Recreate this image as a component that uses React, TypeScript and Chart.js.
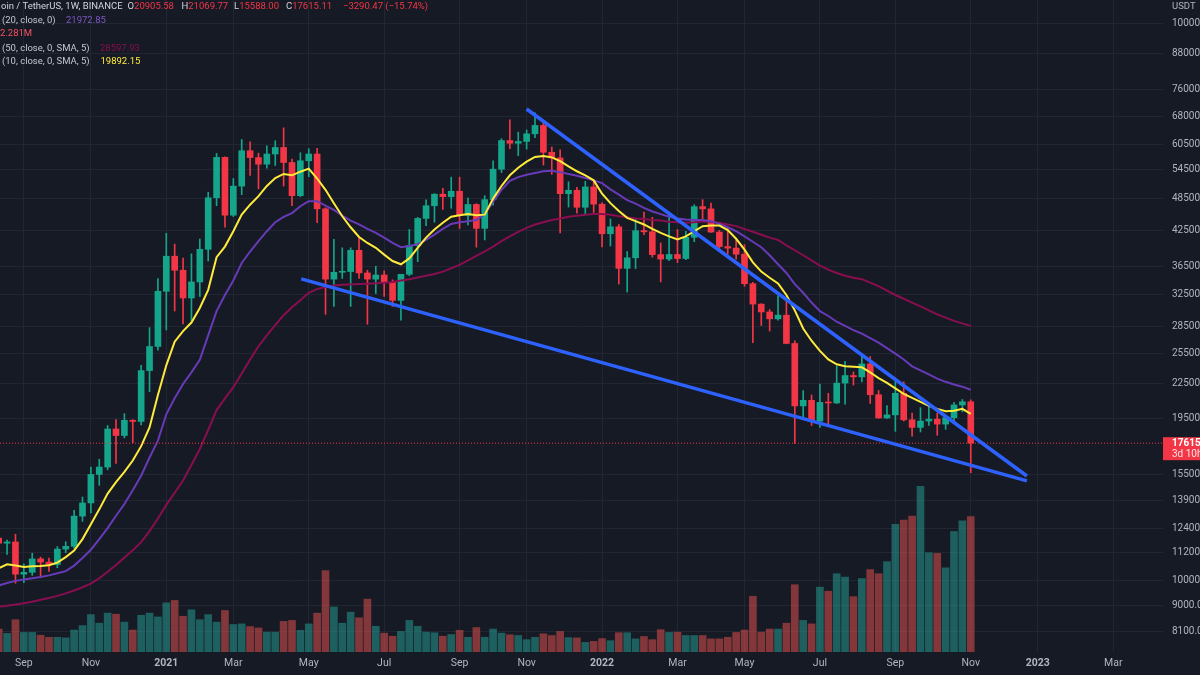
import React, { useEffect, useRef } from "react";
import { Chart, registerables } from "chart.js";

Chart.register(...registerables);

// Weekly BTC/USDT bars, index 0 = week of 17 Aug 2020, last = week of 7 Nov 2022
const OPEN = [
  11900, 11650, 11710, 10250, 10330, 10920, 10775, 10670, 11370, 11500,
  13030, 13760, 15480, 15960, 18680, 18180, 19360, 19270, 23780, 26270,
  33000, 38150, 36000, 32100, 34300, 39250, 48580, 57400, 45200, 50970,
  59000, 57350, 55800, 58200, 59800, 56200, 49000, 56600, 58200, 46400,
  34700, 35700, 35800, 39100, 35600, 34700, 35300, 34250, 31780, 35400,
  39850, 44600, 47000, 49300, 48800, 49900, 45150, 47250, 42800, 48200,
  54660, 61530, 60850, 61300, 63270, 65500, 58620, 57270, 49400, 50100,
  46700, 50800, 47300, 41860, 43080, 36280, 37900, 42400, 42200, 38400,
  37700, 38420, 37780, 41260, 46830, 46400, 42150, 39700, 39450, 38470,
  34050, 31300, 30300, 29450, 29900, 26600, 20550, 21030, 19300, 20850,
  20800, 22580, 23300, 23170, 24440, 21520, 19550, 19800, 21650, 19400,
  18800, 19300, 19450, 19060, 19570, 20630, 20905.58,
];
const HIGH = [
  12470, 11800, 12090, 10700, 11180, 11000, 10950, 11490, 11720, 13350,
  14100, 15960, 16480, 18950, 19420, 19900, 19420, 24300, 28400, 34780,
  41950, 40100, 37850, 38530, 40950, 49700, 58350, 57500, 52600, 61800,
  61200, 58400, 60200, 61500, 64850, 57000, 58500, 59500, 59600, 46600,
  40900, 39500, 39500, 41300, 36000, 36600, 35900, 34600, 35400, 42600,
  44800, 48150, 49400, 50500, 52900, 52900, 48500, 47400, 49000, 56600,
  62000, 67000, 63700, 64300, 69000, 66400, 59900, 59200, 51900, 50700,
  52000, 52100, 47600, 44500, 43500, 38900, 44500, 45800, 44800, 40300,
  45400, 42600, 42300, 47200, 48200, 47500, 42450, 42900, 40800, 40000,
  34250, 31350, 30600, 32400, 31700, 26900, 21900, 21500, 22500, 21650,
  24250, 24700, 23650, 25200, 25200, 21900, 20580, 22800, 22700, 19950,
  20400, 20500, 19950, 19700, 20850, 21100, 21069.77,
];
const LOW = [
  11370, 11120, 9875, 9900, 10200, 10135, 10370, 10530, 11200, 11400,
  12750, 13200, 14800, 15780, 16200, 18000, 17650, 19000, 21800, 25880,
  28130, 30420, 28850, 29240, 32300, 37400, 47000, 43000, 44950, 49200,
  53270, 50400, 54900, 55500, 51000, 47000, 48800, 53000, 43800, 30000,
  31000, 34800, 31000, 34800, 28800, 32700, 32300, 31000, 29300, 35200,
  37300, 43300, 43900, 46300, 46500, 42800, 43400, 39600, 40800, 47100,
  53900, 59500, 57800, 59400, 62300, 55600, 53500, 42000, 46750, 45600,
  45500, 45700, 39650, 39800, 34000, 32900, 36250, 41700, 38000, 34300,
  37450, 37150, 37600, 40500, 44200, 42100, 39200, 38500, 37700, 33700,
  26700, 28650, 28000, 29300, 26560, 17600, 19650, 18950, 18800, 18900,
  20750, 20700, 22400, 22700, 20750, 19520, 19520, 18500, 19300, 18125,
  18450, 18950, 18200, 18650, 19250, 20050, 15588,
];
const CLOSE = [
  11650, 11710, 10250, 10330, 10920, 10775, 10670, 11370, 11500, 13030,
  13760, 15480, 15960, 18680, 18180, 19360, 19270, 23780, 26270, 33000,
  38150, 36000, 32100, 34300, 39250, 48580, 57400, 45200, 50970, 59000,
  57350, 55800, 58200, 59800, 56200, 49000, 56600, 58200, 46400, 34700,
  35700, 35800, 39100, 35600, 34700, 35300, 34250, 31780, 35400, 39850,
  44600, 47000, 49300, 48800, 49900, 45150, 47250, 42800, 48200, 54660,
  61530, 60850, 61300, 63270, 65500, 58620, 57270, 49400, 50100, 46700,
  50800, 47300, 41860, 43080, 36280, 37900, 42400, 42200, 38400, 37700,
  38420, 37780, 41260, 46830, 46400, 42150, 39700, 39450, 38470, 34050,
  31300, 30300, 29450, 29900, 26600, 20550, 21030, 19300, 20850, 20800,
  22580, 23300, 23170, 24440, 21520, 19550, 19800, 21650, 19400, 18800,
  19300, 19450, 19060, 19570, 20630, 20905.58, 17615.11,
];
// volume in thousands of BTC
const VOLUME_K = [
  387, 313, 544, 330, 330, 283, 248, 248, 238, 370,
  446, 631, 486, 655, 637, 504, 370, 620, 655, 591,
  829, 869, 603, 712, 544, 631, 504, 700, 464, 474,
  429, 405, 335, 335, 516, 533, 365, 474, 655, 1372,
  759, 486, 672, 578, 891, 434, 318, 266, 347, 533,
  434, 335, 325, 266, 295, 365, 248, 412, 248, 387,
  318, 290, 278, 208, 248, 307, 278, 347, 243, 238,
  162, 179, 226, 191, 325, 325, 221, 261, 208, 377,
  330, 335, 278, 278, 278, 221, 221, 248, 330, 370,
  938, 335, 387, 387, 486, 1134, 533, 474, 1094, 1025,
  1320, 1263, 933, 1238, 1390, 1320, 1523, 2154, 2223, 2293,
  2791, 1673, 1662, 1419, 2032, 2211, 2281,
];
const MA10 = [
  10500, 10680, 10620, 10560, 10590, 10600, 10640, 10750, 11000, 11300,
  11850, 12600, 13400, 14300, 15000, 15650, 16400, 17400, 18800, 21500,
  24300, 26800, 28000, 29000, 30800, 33200, 38000, 39700, 42300, 45300,
  47200, 48900, 51000, 52700, 53600, 53300, 54100, 54800, 52600, 50200,
  47500, 45000, 43000, 41300, 40300, 39500, 38400, 37400, 36900, 37800,
  39500, 41200, 42600, 43800, 44900, 45200, 45400, 45200, 45300, 48400,
  51000, 53300, 55000, 56400, 57500, 57700, 57400, 56500, 55300, 54200,
  53300, 52200, 49400, 47500, 46000, 44700, 44100, 43500, 42700, 42000,
  41400, 40900, 41400, 42300, 43200, 43300, 43300, 42500, 41000, 39200,
  37200, 35800, 34900, 34100, 32500, 30500, 28300, 26900, 25800, 24900,
  24400, 24200, 24150, 24100, 23600, 23050, 22600, 22100, 21600, 21250,
  20900, 20550, 20300, 20100, 20150, 20300, 19892.15,
];
const EMA20 = [
  9780, 9880, 9970, 10030, 10080, 10130, 10200, 10290, 10380, 10620,
  10960, 11340, 11850, 12400, 13050, 13700, 14500, 15400, 16600, 17800,
  19850, 21200, 22500, 23600, 24850, 27500, 30400, 32500, 34500, 37100,
  38900, 40600, 42300, 43900, 44900, 45600, 46900, 47900, 47900, 47000,
  46200, 45100, 44200, 43500, 42700, 42000, 41200, 40300, 39600, 39800,
  40100, 40800, 41700, 42700, 43600, 43900, 44100, 44300, 45400, 47800,
  50200, 52100, 52900, 53400, 53800, 54200, 54300, 54000, 53600, 53200,
  52700, 52200, 51600, 50300, 49200, 48100, 47400, 46600, 45900, 45400,
  44900, 44600, 44400, 44300, 44300, 44100, 43600, 43000, 42300, 41400,
  40500, 39600, 38300, 36900, 35600, 34000, 32800, 31500, 30400, 29800,
  29100, 28600, 28100, 27700, 27200, 26700, 26100, 25500, 24900, 24200,
  23800, 23400, 23000, 22700, 22450, 22250, 21972.85,
];
const MA50 = [
  8960, 9000, 9040, 9090, 9150, 9220, 9290, 9370, 9470, 9580,
  9710, 9860, 10080, 10350, 10650, 10980, 11320, 11700, 12250, 12900,
  13650, 14350, 15100, 16100, 17200, 18600, 20200, 21200, 22200, 23500,
  24900, 26300, 27500, 28700, 29900, 30900, 31800, 32800, 33300, 33600,
  33800, 33900, 33950, 34000, 34050, 34100, 34200, 34300, 34500, 34700,
  34950, 35200, 35450, 35800, 36300, 36800, 37500, 38200, 38900, 39700,
  40600, 41400, 42200, 42900, 43500, 43900, 44300, 44600, 44900, 45100,
  45300, 45400, 45400, 45300, 45000, 44800, 44600, 44500, 44300, 44200,
  44000, 43900, 43800, 43900, 44100, 44000, 43800, 43500, 43200, 42700,
  42200, 41700, 41200, 40800, 39900, 39100, 38300, 37500, 36700, 36100,
  35600, 35200, 34900, 34700, 34200, 33700, 33100, 32500, 32000, 31500,
  31000, 30500, 30000, 29600, 29200, 28900, 28597.93,
];

const PRICE_TICKS = [
  100000, 88000, 76000, 68000, 60500, 54500, 48500, 42500, 36500, 32500,
  28500, 25500, 22500, 19500, 15500, 13900, 12400, 11200, 10000, 9000, 8100,
];
const TIME_TICK_BARS = [3, 11, 20, 28, 37, 46, 55, 63, 72, 81, 89, 98, 107, 116, 124, 133];
const TIME_TICK_LABELS = [
  "Sep", "Nov", "2021", "Mar", "May", "Jul", "Sep", "Nov",
  "2022", "Mar", "May", "Jul", "Sep", "Nov", "2023", "Mar",
];
const UPPER_TREND = [
  { x: 63.0, y: 70100 },
  { x: 122.7, y: 15380 },
];
const LOWER_TREND = [
  { x: 36.1, y: 34730 },
  { x: 122.7, y: 15070 },
];

const X_MIN = 0.155;
const X_MAX = 138.94;

const BG = "#161A25";
const GRID = "#222632";
const AXIS_TEXT = "#B2B5BE";
const UP = "#14A58A";
const DOWN = "#F23645";
const VOL_UP = "rgba(38,166,154,0.5)";
const VOL_DOWN = "rgba(239,83,80,0.5)";
const FONT = "Roboto, 'Liberation Sans', sans-serif";

const priceTag = {
  id: "priceTag",
  afterDraw(chart: any) {
    const ctx = chart.ctx;
    const ys = chart.scales.y;
    const last = CLOSE.length - 1;
    const py = ys.getPixelForValue(CLOSE[last]);
    const left = chart.chartArea.right;
    ctx.save();
    ctx.fillStyle = DOWN;
    ctx.fillRect(left, py - 6, chart.width - left, 23);
    ctx.textBaseline = "middle";
    ctx.textAlign = "left";
    ctx.fillStyle = "#FFFFFF";
    ctx.font = `bold 10px ${FONT}`;
    ctx.fillText(CLOSE[last].toFixed(2), left + 9, py + 0.5);
    ctx.fillStyle = "#FFE3E6";
    ctx.font = `10px ${FONT}`;
    ctx.fillText("3d 10h", left + 9, py + 11.5);
    ctx.restore();
  },
};

export default function App() {
  const ref = useRef<HTMLCanvasElement | null>(null);

  useEffect(() => {
    if (!ref.current) return;
    const idx = CLOSE.map((_, i) => i);
    const up = idx.map((i) => CLOSE[i] >= OPEN[i]);
    const candleColors = up.map((u) => (u ? UP : DOWN));
    const volColors = up.map((u) => (u ? VOL_UP : VOL_DOWN));
    const lastClose = CLOSE[CLOSE.length - 1];

    const lineDs = (label: string, values: number[], color: string, order: number) => ({
      type: "line" as const,
      label,
      data: values.map((v, i) => ({ x: i, y: v })),
      borderColor: color,
      borderWidth: 2,
      pointRadius: 0,
      tension: 0,
      yAxisID: "y",
      order,
    });

    const chart = new Chart(ref.current, {
      type: "bar",
      data: {
        datasets: [
          {
            type: "bar",
            label: "Volume",
            data: VOLUME_K.map((v, i) => ({ x: i, y: v })),
            backgroundColor: volColors,
            barThickness: 7,
            grouped: false,
            yAxisID: "yVol",
            order: 10,
          },
          {
            type: "bar",
            label: "Wick",
            data: idx.map((i) => ({ x: i, y: [LOW[i], HIGH[i]] })),
            backgroundColor: candleColors,
            barThickness: 1,
            grouped: false,
            yAxisID: "y",
            order: 9,
          },
          {
            type: "bar",
            label: "Body",
            data: idx.map((i) => ({ x: i, y: [OPEN[i], CLOSE[i]] })),
            backgroundColor: candleColors,
            barThickness: 6,
            minBarLength: 1,
            grouped: false,
            yAxisID: "y",
            order: 8,
          },
          lineDs("MA 50", MA50, "#880E4F", 6),
          lineDs("EMA 20", EMA20, "#673AB7", 5),
          lineDs("MA 10", MA10, "#FFEB3B", 4),
          {
            type: "line",
            label: "Last",
            data: [
              { x: X_MIN, y: lastClose },
              { x: X_MAX, y: lastClose },
            ],
            borderColor: DOWN,
            borderWidth: 1,
            borderDash: [1, 2],
            pointRadius: 0,
            yAxisID: "y",
            order: 3,
          },
          {
            type: "line",
            label: "Upper trend",
            data: UPPER_TREND,
            borderColor: "#2E62FF",
            borderWidth: 3.5,
            pointRadius: 0,
            yAxisID: "y",
            order: 1,
          },
          {
            type: "line",
            label: "Lower trend",
            data: LOWER_TREND,
            borderColor: "#2E62FF",
            borderWidth: 3.5,
            pointRadius: 0,
            yAxisID: "y",
            order: 1,
          },
        ] as any,
      },
      options: {
        animation: false,
        responsive: false,
        maintainAspectRatio: false,
        layout: { padding: 0 },
        events: [],
        plugins: { legend: { display: false }, tooltip: { enabled: false } },
        scales: {
          x: {
            type: "linear",
            min: X_MIN,
            max: X_MAX,
            offset: false,
            position: "bottom",
            grid: { color: GRID, drawTicks: false, offset: false },
            border: { display: false },
            afterBuildTicks: (scale: any) => {
              scale.ticks = TIME_TICK_BARS.map((v) => ({ value: v }));
            },
            afterFit: (scale: any) => {
              scale.height = 23;
              scale.paddingLeft = 0;
              scale.paddingRight = 0;
            },
            ticks: {
              autoSkip: false,
              maxRotation: 0,
              padding: 5,
              color: AXIS_TEXT,
              font: (c: any) => {
                const k = TIME_TICK_BARS.indexOf(Number(c.tick && c.tick.value));
                const isYear = k >= 0 && /^\d{4}$/.test(TIME_TICK_LABELS[k]);
                return { family: FONT, size: 10.5, weight: isYear ? "bold" : "normal" };
              },
              callback: (v: any) => {
                const k = TIME_TICK_BARS.indexOf(Number(v));
                return k >= 0 ? TIME_TICK_LABELS[k] : "";
              },
            },
          },
          y: {
            type: "logarithmic",
            position: "right",
            min: 7431,
            max: 110000,
            beginAtZero: false,
            grid: { color: GRID, drawTicks: false },
            border: { display: false },
            afterBuildTicks: (scale: any) => {
              scale.ticks = PRICE_TICKS.map((v) => ({ value: v }));
            },
            afterFit: (scale: any) => {
              scale.width = 37;
              scale.paddingTop = 0;
              scale.paddingBottom = 0;
            },
            ticks: {
              autoSkip: false,
              padding: 9,
              crossAlign: "near",
              color: AXIS_TEXT,
              font: { family: FONT, size: 10 },
              callback: (v: any) => Number(v).toFixed(2),
            },
          },
          yVol: {
            type: "linear",
            display: false,
            min: 0,
            max: 10992,
            beginAtZero: true,
          },
        },
      } as any,
      plugins: [priceTag],
    });
    return () => chart.destroy();
  }, []);

  const row = (top: number): React.CSSProperties => ({
    position: "absolute",
    top,
    left: 0,
    height: 14,
    lineHeight: "14px",
    whiteSpace: "nowrap",
    width: 600,
  });
  const at = (left: number, color: string): React.CSSProperties => ({
    position: "absolute",
    left,
    color,
  });

  return (
    <div
      style={{
        position: "fixed",
        left: 0,
        top: 0,
        width: 1200,
        height: 675,
        overflow: "hidden",
        background: BG,
        fontFamily: FONT,
        fontSize: "9.5px",
      }}
    >
      <canvas ref={ref} width={1200} height={675} style={{ display: "block", width: 1200, height: 675 }} />
      <div style={{ position: "absolute", left: 0, top: 0, width: 600, height: 75, color: "#D1D4DC" }}>
        <div style={row(-1)}>
          <span style={at(1, "#D1D4DC")}>oin / TetherUS, 1W, BINANCE</span>
          <span style={at(127.5, "#D1D4DC")}>
            O<span style={{ color: DOWN }}>20905.58</span>
          </span>
          <span style={at(181.5, "#D1D4DC")}>
            H<span style={{ color: DOWN }}>21069.77</span>
          </span>
          <span style={at(234, "#D1D4DC")}>
            L<span style={{ color: DOWN }}>15588.00</span>
          </span>
          <span style={at(286, "#D1D4DC")}>
            C<span style={{ color: DOWN }}>17615.11</span>
          </span>
          <span style={at(343, DOWN)}>−3290.47 (−15.74%)</span>
        </div>
        <div style={row(13)}>
          <span style={at(2, "#C3C6CE")}>(20, close, 0)</span>
          <span style={at(66, "#7E57C2")}>21972.85</span>
        </div>
        <div style={row(26)}>
          <span style={at(0, "#F7525F")}>2.281M</span>
        </div>
        <div style={row(41)}>
          <span style={at(2, "#C3C6CE")}>(50, close, 0, SMA, 5)</span>
          <span style={at(100, "#880E4F")}>28597.93</span>
        </div>
        <div style={row(54)}>
          <span style={at(2, "#C3C6CE")}>(10, close, 0, SMA, 5)</span>
          <span style={at(100.5, "#FFEB3B")}>19892.15</span>
        </div>
      </div>
      <div style={{ position: "absolute", left: 1172, top: -1, lineHeight: "14px", color: AXIS_TEXT, fontSize: "9.5px" }}>
        USDT
      </div>
    </div>
  );
}
